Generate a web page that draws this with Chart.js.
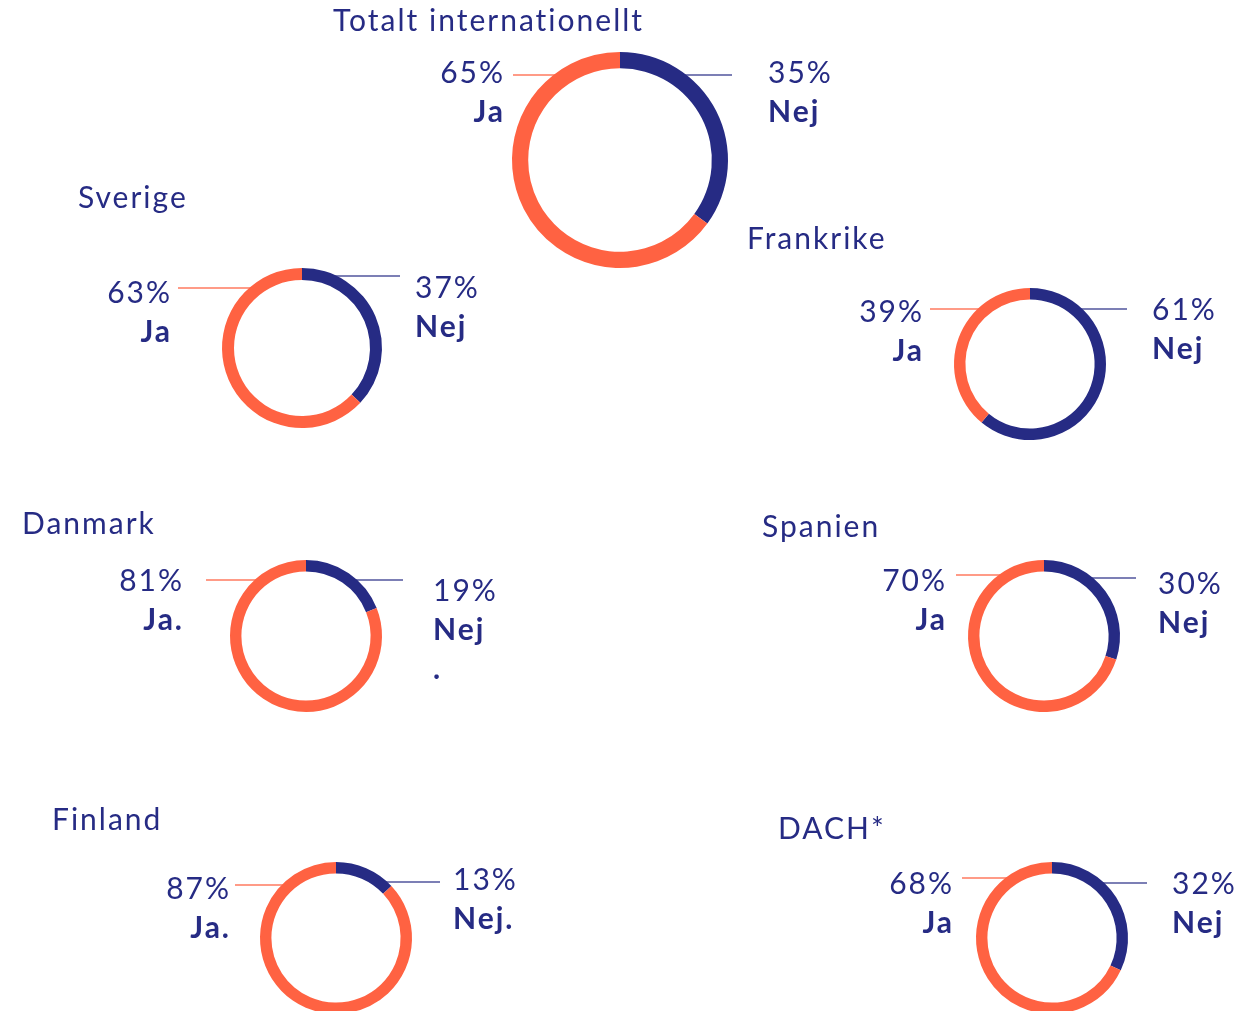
<!DOCTYPE html>
<html>
<head>
<meta charset="utf-8">
<script src="https://cdn.jsdelivr.net/npm/chart.js@4"></script>
<style>
  html, body { margin: 0; padding: 0; background: #fff; }
  body { width: 1258px; height: 1011px; position: relative; overflow: hidden; font-family: Lato, "Open Sans", sans-serif; color: #262B84; }
  canvas { position: absolute; left: 0; top: 0; }
  .txt { position: absolute; font-size: 30px; line-height: 39px; white-space: nowrap; letter-spacing: 2px; font-variant-ligatures: none; }
  .txt b { font-weight: 700; }
  .hoger { text-align: right; margin-right: -2px; }
</style>
</head>
<body>
<script>
// data
var namn = ['Totalt internationellt', 'Sverige', 'Frankrike', 'Danmark', 'Spanien', 'Finland', 'DACH*'];
var ja = [65, 63, 39, 81, 70, 87, 68];
var nej = [35, 37, 61, 19, 30, 13, 32];
var jaText = ['Ja', 'Ja', 'Ja', 'Ja.', 'Ja', 'Ja.', 'Ja'];
var nejText = ['Nej', 'Nej', 'Nej', 'Nej<br>.', 'Nej', 'Nej.', 'Nej'];

// farger
var orange = '#FF6242';
var bla = '#262B84';

// placering: mitt x, mitt y, radie
var mittX = [620, 302, 1030, 306, 1044, 336, 1052];
var mittY = [160, 348, 364, 636, 636, 938, 938];
var radie = [108, 80, 76, 76, 76, 76, 76];
var titelPos = [[333, 20], [78, 197], [747, 238], [22, 523], [762, 526], [52, 819], [778, 828]];
// linjer: [y, start x] for ja, [y, slut x] for nej
var jaLinje = [[75, 513], [288, 178], [309, 930], [580, 206], [575, 956], [885, 235], [878, 962]];
var nejLinje = [[75, 732], [276, 400], [309, 1127], [580, 403], [578, 1136], [882, 440], [883, 1147]];
// etiketter: ja höger kant + y, nej vänster kant + y
var jaEtikett = [[503, 72], [170, 292], [922, 311], [182, 580], [945, 580], [229, 888], [952, 883]];
var nejEtikett = [[768, 72], [415, 287], [1152, 309], [433, 590], [1158, 583], [453, 879], [1172, 883]];

var W = 1258, H = 1100;

function lagg(html, x, y, hoger) {
  var d = document.createElement('div');
  d.className = 'txt' + (hoger ? ' hoger' : '');
  d.innerHTML = html;
  d.style.top = (y - 20) + 'px';
  if (hoger) d.style.right = (1258 - x) + 'px';
  else d.style.left = x + 'px';
  document.body.appendChild(d);
}

// linjer till ringen
var linjePlugin = {
  id: 'linjer',
  beforeDatasetsDraw: function(chart, args, opts) {
    var arc = chart.getDatasetMeta(0).data[0];
    var cx = arc.x, cy = arc.y, R = arc.outerRadius;
    var ctx = chart.ctx;
    ctx.save();
    ctx.lineWidth = 1.5;
    // ja
    var dy = opts.ja[0] - cy;
    var xr = cx - Math.sqrt(Math.max(R * R - dy * dy, 0)) + 3;
    ctx.strokeStyle = 'rgba(255, 98, 66, 0.85)';
    ctx.beginPath(); ctx.moveTo(opts.ja[1], opts.ja[0]); ctx.lineTo(xr, opts.ja[0]); ctx.stroke();
    // nej
    dy = opts.nej[0] - cy;
    xr = cx + Math.sqrt(Math.max(R * R - dy * dy, 0)) - 3;
    ctx.strokeStyle = 'rgba(38, 43, 132, 0.8)';
    ctx.beginPath(); ctx.moveTo(xr, opts.nej[0]); ctx.lineTo(opts.nej[1], opts.nej[0]); ctx.stroke();
    ctx.restore();
  }
};

for (var i = 0; i < namn.length; i++) {
  var c = document.createElement('canvas');
  c.width = W; c.height = H;
  c.style.width = W + 'px'; c.style.height = H + 'px';
  document.body.appendChild(c);
  var r = radie[i];
  new Chart(c, {
    type: 'doughnut',
    data: {
      labels: ['Nej', 'Ja'],
      datasets: [{
        data: [nej[i], ja[i]],
        backgroundColor: [bla, orange],
        borderWidth: 0
      }]
    },
    options: {
      responsive: false,
      animation: false,
      cutout: '85%',
      layout: { padding: { left: mittX[i] - r, top: mittY[i] - r, right: W - mittX[i] - r, bottom: H - mittY[i] - r } },
      plugins: {
        legend: { display: false },
        tooltip: { enabled: false },
        linjer: { ja: jaLinje[i], nej: nejLinje[i] }
      }
    },
    plugins: [linjePlugin]
  });

  lagg(namn[i], titelPos[i][0], titelPos[i][1], false);
  lagg(ja[i] + '%<br><b>' + jaText[i] + '</b>', jaEtikett[i][0], jaEtikett[i][1], true);
  lagg(nej[i] + '%<br><b>' + nejText[i] + '</b>', nejEtikett[i][0], nejEtikett[i][1], false);
}
</script>
</body>
</html>
